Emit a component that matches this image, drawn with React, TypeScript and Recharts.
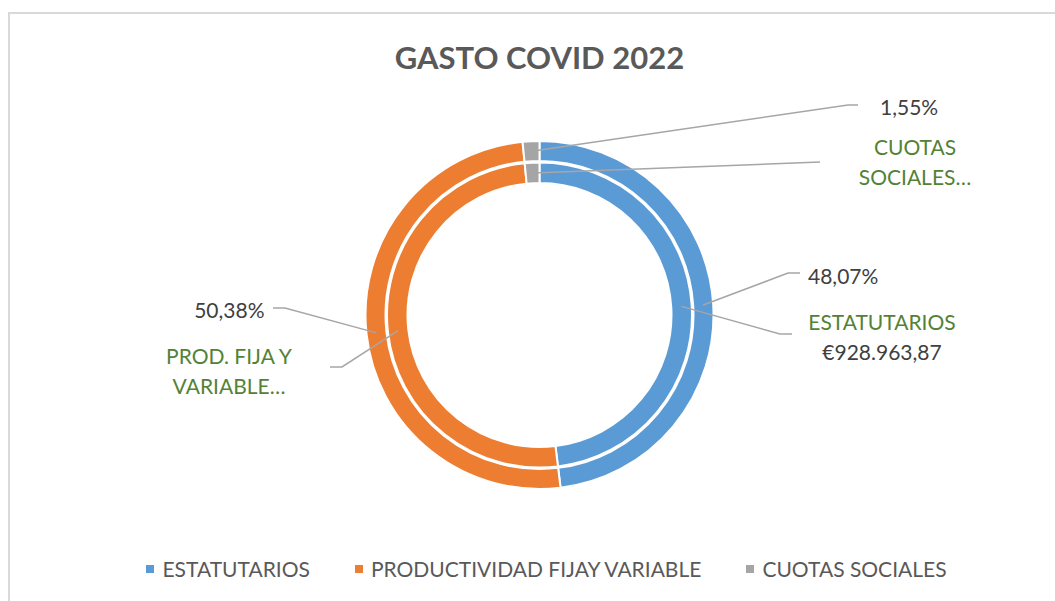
import { PieChart, Pie, Cell, Legend } from "recharts";

const categories = ["ESTATUTARIOS", "PRODUCTIVIDAD FIJAY VARIABLE", "CUOTAS SOCIALES"];
const amounts = [928963.87, 973605.0, 29954.0];
const colors = ["#5B9BD5", "#ED7D31", "#A5A5A5"];

// Excel truncated the category labels on the inner ring
const innerLabelLines = [
  ["ESTATUTARIOS"],
  ["PROD. FIJA Y", "VARIABLE…"],
  ["CUOTAS", "SOCIALES…"],
];
const showValue = [true, false, false];

const data = categories.map((name, i) => ({ name, value: amounts[i] }));

const CX = 539.5;
const CY = 315;
const FONT = "Lato, 'Open Sans', sans-serif";
const LINE = "#A6A6A6";
const DARK = "#404040";
const GREEN = "#548235";

// label placement relative to the pie centre (leader line elbow, end, text)
const outerPos = [
  { elbow: [248.5, -42], end: [260.5, -42], text: [268.5, -40], anchor: "start" },
  { elbow: [-254.5, -7], end: [-266.5, -7], text: [-275, -6], anchor: "end" },
  { elbow: [308.5, -210], end: [318.5, -210], text: [340.5, -209], anchor: "start" },
];
const innerPos = [
  { elbow: [240.5, 19], end: [252.5, 19], text: [342.5, 6] },
  { elbow: [-197.5, 52], end: [-209.5, 52], text: [-310.5, 40] },
  { elbow: [280.5, -153], end: [280.5, -153], text: [375.5, -169] },
];

const RAD = Math.PI / 180;

const fmtEuro = (v: number) => {
  const [int, dec] = v.toFixed(2).split(".");
  return "€" + int.replace(/\B(?=(\d{3})+(?!\d))/g, ".") + "," + dec;
};

const anchorPoint = (p: any) => {
  const r = (p.innerRadius + p.outerRadius) / 2;
  return [p.cx + r * Math.cos(-p.midAngle * RAD), p.cy + r * Math.sin(-p.midAngle * RAD)];
};

const renderOuterLabel = (p: any) => {
  const pos = outerPos[p.index];
  const [ax, ay] = anchorPoint(p);
  const pct = (p.percent * 100).toFixed(2).replace(".", ",") + "%";
  return (
    <g key={`o-${p.index}`}>
      <polyline
        points={`${ax},${ay} ${p.cx + pos.elbow[0]},${p.cy + pos.elbow[1]} ${p.cx + pos.end[0]},${p.cy + pos.end[1]}`}
        fill="none"
        stroke={LINE}
        strokeWidth={1.5}
      />
      <text
        x={p.cx + pos.text[0]}
        y={p.cy + pos.text[1]}
        textAnchor={pos.anchor as any}
        dominantBaseline="central"
        fill={DARK}
        fontSize={21}
        fontFamily={FONT}
      >
        {pct}
      </text>
    </g>
  );
};

const renderInnerLabel = (p: any) => {
  const pos = innerPos[p.index];
  const [ax, ay] = anchorPoint(p);
  const lines = innerLabelLines[p.index].map((t) => ({ t, c: GREEN }));
  if (showValue[p.index]) lines.push({ t: fmtEuro(p.value), c: DARK });
  return (
    <g key={`i-${p.index}`}>
      <polyline
        points={`${ax},${ay} ${p.cx + pos.elbow[0]},${p.cy + pos.elbow[1]} ${p.cx + pos.end[0]},${p.cy + pos.end[1]}`}
        fill="none"
        stroke={LINE}
        strokeWidth={1.5}
      />
      {lines.map((l, k) => (
        <text
          key={k}
          x={p.cx + pos.text[0]}
          y={p.cy + pos.text[1] + k * 30}
          textAnchor="middle"
          dominantBaseline="central"
          fill={l.c}
          fontSize={21}
          fontFamily={FONT}
        >
          {l.t}
        </text>
      ))}
    </g>
  );
};

const renderLegend = () => (
  <div
    style={{
      display: "flex",
      justifyContent: "center",
      gap: 45,
      fontFamily: FONT,
      fontSize: 21,
      color: "#595959",
      paddingLeft: 38,
    }}
  >
    {categories.map((c, i) => (
      <div key={c} style={{ display: "flex", alignItems: "center" }}>
        <span style={{ width: 8, height: 8, background: colors[i], marginRight: 8, display: "inline-block" }} />
        <span>{c}</span>
      </div>
    ))}
  </div>
);

export default function App() {
  return (
    <div style={{ position: "relative", width: 1055, height: 601, overflow: "hidden" }}>
      <style>{"body{margin:0;overflow:hidden;background:#fff}"}</style>
      <div
        style={{
          position: "absolute",
          left: 8,
          top: 12,
          width: 1100,
          height: 700,
          borderLeft: "2px solid #D9D9D9",
          borderTop: "2px solid #D9D9D9",
        }}
      />
      <div
        style={{
          position: "absolute",
          left: 0,
          top: 38,
          width: 1079,
          textAlign: "center",
          fontFamily: FONT,
          fontWeight: 700,
          fontSize: 31,
          color: "#595959",
        }}
      >
        GASTO COVID 2022
      </div>
      <div style={{ position: "absolute", left: 0, top: 0 }}>
        <PieChart width={1055} height={601} margin={{ top: 0, right: 0, bottom: 0, left: 0 }}>
          <Pie
            data={data}
            dataKey="value"
            nameKey="name"
            cx={CX}
            cy={CY}
            innerRadius={154}
            outerRadius={174}
            startAngle={90}
            endAngle={-270}
            stroke="#fff"
            strokeWidth={2}
            label={renderOuterLabel}
            labelLine={false}
            isAnimationActive={false}
          >
            {data.map((d, i) => (
              <Cell key={d.name} fill={colors[i]} />
            ))}
          </Pie>
          <Pie
            data={data}
            dataKey="value"
            nameKey="name"
            cx={CX}
            cy={CY}
            innerRadius={132}
            outerRadius={152.5}
            startAngle={90}
            endAngle={-270}
            stroke="#fff"
            strokeWidth={2}
            label={renderInnerLabel}
            labelLine={false}
            isAnimationActive={false}
          >
            {data.map((d, i) => (
              <Cell key={d.name} fill={colors[i]} />
            ))}
          </Pie>
          <Legend
            content={renderLegend}
            wrapperStyle={{ position: "absolute", top: 556, left: 0, width: 1055 }}
          />
        </PieChart>
      </div>
    </div>
  );
}
